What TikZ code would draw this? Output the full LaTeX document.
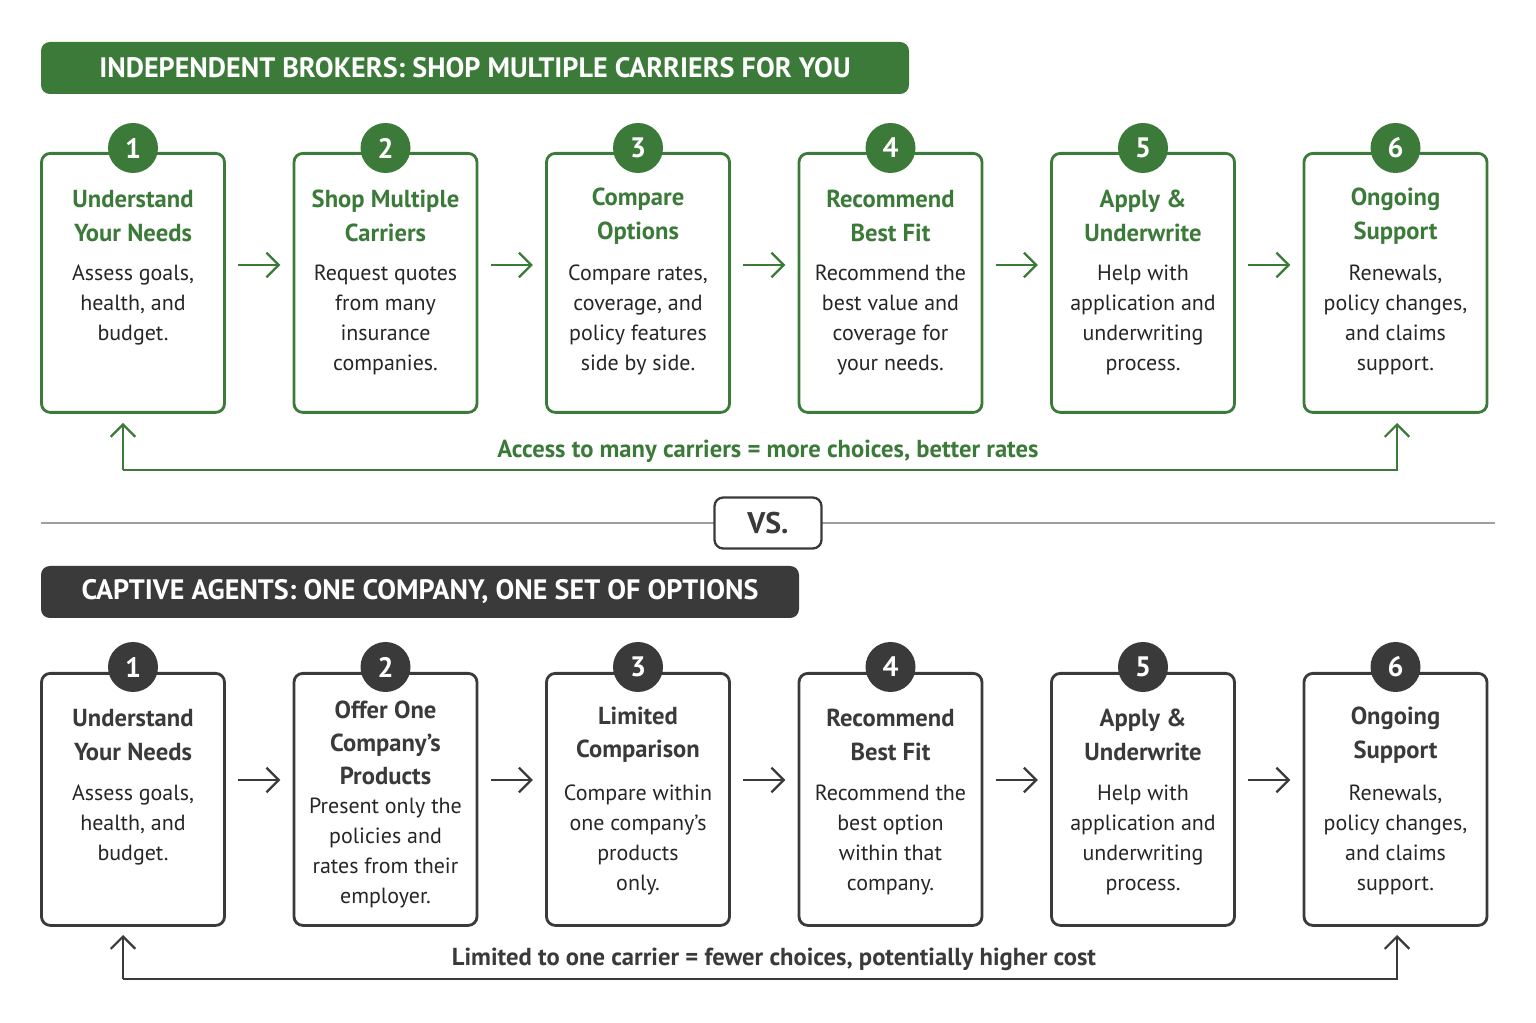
\documentclass[tikz,border=0pt]{standalone}
\usepackage{fontspec}
\setmainfont{PT Sans}
\usetikzlibrary{arrows.meta,positioning}
\definecolor{brk}{HTML}{3C7A3A}
\definecolor{cpt}{HTML}{3A3A3A}
\tikzset{
  step/.style={draw=#1,line width=1.6pt,rounded corners=5pt,fill=white,minimum width=183*0.02cm,anchor=north},
  num/.style={circle,fill=#1,text=white,minimum size=50*0.02cm,inner sep=0pt,font=\fontsize{16}{16}\selectfont\bfseries},
  ttl/.style={text=#1,align=center,font=\fontsize{14}{19}\selectfont\bfseries},
  body/.style={text=black!85,align=center,font=\fontsize{12.5}{17}\selectfont},
  flow/.style={->,>={Straight Barb[length=7pt,width=14pt]},line width=1.3pt,draw=#1},
  banner/.style={fill=#1,rounded corners=5pt,text=white,inner sep=0pt,font=\fontsize{16}{16}\selectfont\bfseries}
}
\begin{document}
\begin{tikzpicture}[x=0.02cm,y=-0.02cm]
\useasboundingbox[fill=white] (0,0) rectangle (1536,1023);
% brokers
\node[banner=brk,minimum width=868*0.02cm,minimum height=52*0.02cm] (hb) at (475,68) {INDEPENDENT BROKERS: SHOP MULTIPLE CARRIERS FOR YOU};
\foreach \i/\t/\b/\by in {1/{Understand\\Your Needs}/{Assess goals,\\health, and\\budget.}/305,
  2/{Shop Multiple\\Carriers}/{Request quotes\\from many\\insurance\\companies.}/320,
  3/{Compare\\Options}/{Compare rates,\\coverage, and\\policy features\\side by side.}/320,
  4/{Recommend\\Best Fit}/{Recommend the\\best value and\\coverage for\\your needs.}/320,
  5/{Apply \&\\Underwrite}/{Help with\\application and\\underwriting\\process.}/320,
  6/{Ongoing\\Support}/{Renewals,\\policy changes,\\and claims\\support.}/320}{
  \node[step=brk,minimum height=259*0.02cm] (b\i) at ({133+(\i-1)*252.5},152) {};
  \node[num=brk] (bn\i) at ({133+(\i-1)*252.5},148) {\i};
  \node[ttl=brk] (bt\i) at ({133+(\i-1)*252.5},216) {\t};
  \node[body] (bb\i) at ({133+(\i-1)*252.5},\by) {\b};
}
\foreach \i [evaluate=\i as \j using int(\i+1)] in {1,...,5}
  \draw[flow=brk,shorten <=7pt,shorten >=7pt] (b\i.east|-0,265) -- (b\j.west|-0,265);
\coordinate (bl) at (123,470);
\coordinate (br) at (1397,470);
\draw[flow=brk] (bl) -- (br) -- (1397,423);
\draw[flow=brk] (bl) -- (123,423);
\node[text=brk,font=\fontsize{14}{14}\selectfont\bfseries] (bnote) at (768,451) {Access to many carriers = more choices, better rates};
% divider
\draw[cpt!50,line width=0.8pt] (41,523) -- (1495,523);
\node[draw=cpt,line width=1.3pt,rounded corners=5pt,fill=white,minimum width=107*0.02cm,minimum height=51*0.02cm,font=\fontsize{17}{17}\selectfont\bfseries,text=cpt] (vs) at (768,523) {VS.};
% captive
\node[banner=cpt,minimum width=758*0.02cm,minimum height=52*0.02cm] (hc) at (420,592) {CAPTIVE AGENTS: ONE COMPANY, ONE SET OF OPTIONS};
\foreach \i/\t/\b/\ty/\by in {1/{Understand\\Your Needs}/{Assess goals,\\health, and\\budget.}/735/825,
  2/{Offer One\\Company's\\Products}/{Present only the\\policies and\\rates from their\\employer.}/743/853,
  3/{Limited\\Comparison}/{Compare within\\one company's\\products\\only.}/735/840,
  4/{Recommend\\Best Fit}/{Recommend the\\best option\\within that\\company.}/735/840,
  5/{Apply \&\\Underwrite}/{Help with\\application and\\underwriting\\process.}/735/840,
  6/{Ongoing\\Support}/{Renewals,\\policy changes,\\and claims\\support.}/735/840}{
  \node[step=cpt,minimum height=252*0.02cm] (c\i) at ({133+(\i-1)*252.5},672) {};
  \node[num=cpt] (cn\i) at ({133+(\i-1)*252.5},667) {\i};
  \node[ttl=cpt] (ct\i) at ({133+(\i-1)*252.5},\ty) {\t};
  \node[body] (cb\i) at ({133+(\i-1)*252.5},\by) {\b};
}
\foreach \i [evaluate=\i as \j using int(\i+1)] in {1,...,5}
  \draw[flow=cpt,shorten <=7pt,shorten >=7pt] (c\i.east|-0,780) -- (c\j.west|-0,780);
\coordinate (cl) at (123,979);
\coordinate (cr) at (1397,979);
\draw[flow=cpt] (cl) -- (cr) -- (1397,935);
\draw[flow=cpt] (cl) -- (123,935);
\node[text=cpt,fill=white,inner sep=2pt,font=\fontsize{14}{14}\selectfont\bfseries] (cnote) at (774,959) {Limited to one carrier = fewer choices, potentially higher cost};
\end{tikzpicture}
\end{document}
